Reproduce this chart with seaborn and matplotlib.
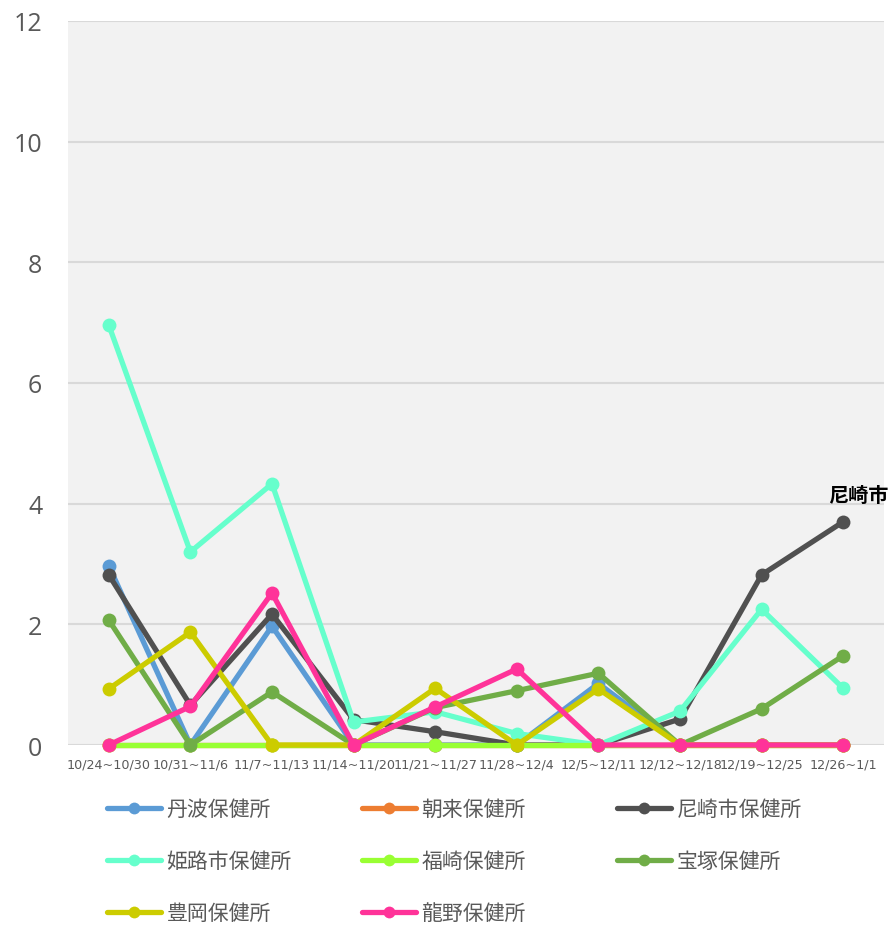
import matplotlib
matplotlib.use("Agg")
import matplotlib.pyplot as plt
from matplotlib.lines import Line2D
import seaborn as sns
import pandas as pd

weeks = ["10/24~10/30", "10/31~11/6", "11/7~11/13", "11/14~11/20", "11/21~11/27",
         "11/28~12/4", "12/5~12/11", "12/12~12/18", "12/19~12/25", "12/26~1/1"]

series_names = ["丹波保健所", "朝来保健所", "尼崎市保健所", "姫路市保健所",
                "福崎保健所", "宝塚保健所", "豊岡保健所", "龍野保健所"]

tamba      = [2.97, 0, 1.97, 0, 0, 0, 1.02, 0, 0, 0]
asago      = [0, 0, 0, 0, 0, 0, 0, 0, 0, 0]
amagasaki  = [2.82, 0.66, 2.17, 0.42, 0.22, 0, 0, 0.43, 2.82, 3.70]
himeji     = [6.96, 3.20, 4.33, 0.38, 0.55, 0.19, 0, 0.56, 2.25, 0.94]
fukusaki   = [0, 0, 0, 0, 0, 0, 0, 0, 0, 0]
takarazuka = [2.07, 0, 0.88, 0, 0.62, 0.90, 1.19, 0, 0.60, 1.48]
toyooka    = [0.93, 1.87, 0, 0, 0.94, 0, 0.93, 0, 0, 0]
tatsuno    = [0, 0.64, 2.52, 0, 0.63, 1.26, 0, 0, 0, 0]

colors = ["#5b9bd5", "#ed7d31", "#505050", "#66ffcc",
          "#99ff33", "#70ad47", "#cccc00", "#ff3399"]

values = [tamba, asago, amagasaki, himeji, fukusaki, takarazuka, toyooka, tatsuno]

rows = []
for name, vals in zip(series_names, values):
    for i, (w, v) in enumerate(zip(weeks, vals)):
        rows.append({"series": name, "idx": i, "week": w, "value": v})
df = pd.DataFrame(rows)

sns.set_theme(style="white")
plt.rcParams["font.family"] = ["Noto Sans CJK JP", "DejaVu Sans"]

fig = plt.figure(figsize=(8.91, 9.28), dpi=100)
ax = fig.add_axes([68 / 891, 1 - 746 / 928, (884 - 68) / 891, (746 - 22) / 928])
ax.set_facecolor("#f2f2f2")

for name, col in zip(series_names, colors):
    sub = df[df["series"] == name]
    sns.lineplot(data=sub, x="idx", y="value", color=col, marker="o",
                 markersize=10, markeredgewidth=0, linewidth=3.8,
                 ax=ax, legend=False, sort=False)
for ln in ax.lines:
    ln.set_clip_on(False)

ax.set_xlim(-0.5, 9.5)
ax.set_ylim(0, 12)
ax.set_yticks(range(0, 13, 2))
ax.yaxis.grid(True, color="#d9d9d9", linewidth=1.5, zorder=0)
ax.set_axisbelow(True)
ax.xaxis.grid(False)
for s in ax.spines.values():
    s.set_visible(False)
ax.set_xlabel("")
ax.set_ylabel("")
ax.set_xticks(range(len(weeks)))
ax.set_xticklabels(weeks, fontsize=9.2, color="#595959", family="DejaVu Sans")
ax.tick_params(axis="x", length=0, pad=9)
ax.tick_params(axis="y", length=0, pad=18.5, labelsize=18, labelcolor="#595959")
for lab in ax.get_yticklabels():
    lab.set_family(["Open Sans", "DejaVu Sans"])

ax.annotate("尼崎市", xy=(9, amagasaki[9]), xytext=(11, 20),
            textcoords="offset points", ha="center", va="center",
            fontsize=14.5, fontweight="bold", color="#000000",
            annotation_clip=False)

# legend: three columns placed at fixed pitch like the original
handles = [Line2D([0], [0], color=c, linewidth=3.8, marker="o", markersize=8.5,
                  markeredgewidth=0, solid_capstyle="round") for c in colors]
col_groups = [[0, 3, 6], [1, 4, 7], [2, 5]]
col_x = [107, 362, 617]
for grp, x in zip(col_groups, col_x):
    fig.legend([handles[i] for i in grp], [series_names[i] for i in grp],
               loc="upper left", bbox_to_anchor=(x / 891, 1 - 799 / 928),
               frameon=False, borderpad=0, fontsize=15, labelcolor="#595959",
               handlelength=2.6, handletextpad=0.25, labelspacing=1.45,
               borderaxespad=0)

fig.savefig("out.png", dpi=100, facecolor="white")
